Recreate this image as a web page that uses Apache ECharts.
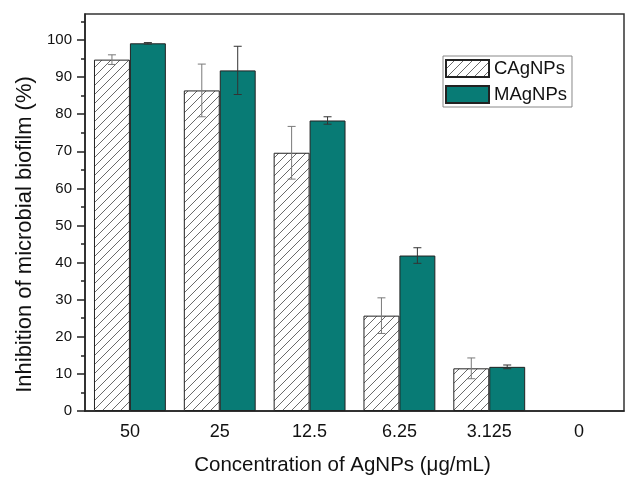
<!DOCTYPE html>
<html>
<head>
<meta charset="utf-8">
<script src="https://cdn.jsdelivr.net/npm/echarts@6/dist/echarts.min.js"></script>
<style>html,body{margin:0;padding:0;background:#fff}#c{width:625px;height:481px}</style>
</head>
<body>
<div id="c"></div>
<script>
const categories = ['50', '25', '12.5', '6.25', '3.125', '0'];
const cagnpsValues = [94.7, 86.4, 69.6, 25.7, 11.5, '-'];
const cagnpsErrors = [1.3, 7.1, 7.1, 4.8, 2.8, 0];
const magnpsValues = [99.1, 91.8, 78.3, 41.9, 11.9, '-'];
const magnpsErrors = [0.2, 6.5, 1.0, 2.1, 0.5, 0];
const yMajorTicks = [0, 10, 20, 30, 40, 50, 60, 70, 80, 90, 100];
const yMinorTicks = [5, 15, 25, 35, 45, 55, 65, 75, 85, 95, 105];

const FONT = '"Liberation Sans", Arial, sans-serif';

function hatch() {
  const s = 9;
  const cv = document.createElement('canvas');
  cv.width = s; cv.height = s;
  const ctx = cv.getContext('2d');
  ctx.fillStyle = '#ffffff';
  ctx.fillRect(0, 0, s, s);
  ctx.strokeStyle = '#6a6a6a';
  ctx.lineWidth = 1;
  ctx.beginPath();
  ctx.moveTo(-1, s + 1); ctx.lineTo(s + 1, -1);
  ctx.moveTo(-1, 1); ctx.lineTo(1, -1);
  ctx.moveTo(s - 1, s + 1); ctx.lineTo(s + 1, s - 1);
  ctx.stroke();
  return cv;
}

function errData(vals, errs) {
  const out = [];
  vals.forEach((v, i) => { if (v !== '-' && errs[i] > 0) out.push([i, v, errs[i]]); });
  return out;
}

function errSeries(vals, errs, offset, color) {
  return {
    type: 'custom',
    z: 5,
    silent: true,
    data: errData(vals, errs),
    renderItem: function (params, api) {
      const i = api.value(0), v = api.value(1), e = api.value(2);
      const band = api.size([1, 0])[0];
      const top = api.coord([i, v + e]);
      const bot = api.coord([i, v - e]);
      const x = top[0] + offset * band;
      const cap = 4;
      const style = { stroke: color, lineWidth: 1 };
      return {
        type: 'group',
        children: [
          { type: 'line', shape: { x1: x, y1: top[1], x2: x, y2: bot[1] }, style: style },
          { type: 'line', shape: { x1: x - cap, y1: top[1], x2: x + cap, y2: top[1] }, style: style },
          { type: 'line', shape: { x1: x - cap, y1: bot[1], x2: x + cap, y2: bot[1] }, style: style }
        ]
      };
    }
  };
}

const chart = echarts.init(document.getElementById('c'), null, { renderer: 'canvas' });
const axisColor = '#222';
chart.setOption({
  animation: false,
  backgroundColor: '#ffffff',
  textStyle: { fontFamily: FONT },
  grid: { left: 85, right: 1, top: 14, bottom: 65, show: true, borderColor: '#333', borderWidth: 1.5, containLabel: false },
  legend: {
    left: 443, top: 56,
    orient: 'vertical',
    itemWidth: 43, itemHeight: 17, itemGap: 7,
    padding: [3, 5, 3, 2],
    borderColor: '#888', borderWidth: 1, backgroundColor: '#fff',
    textStyle: { fontFamily: FONT, fontSize: 18.5, lineHeight: 17, color: '#111' },
    icon: 'rect',
    data: ['CAgNPs', 'MAgNPs']
  },
  xAxis: {
    type: 'category',
    data: categories,
    name: 'Concentration of AgNPs (μg/mL)',
    nameLocation: 'middle',
    nameGap: 44,
    nameTextStyle: { fontFamily: FONT, fontSize: 20.5, color: '#111', padding: [0, 24, 0, 0] },
    axisLine: { lineStyle: { color: axisColor, width: 1.5 } },
    axisTick: { alignWithLabel: true, length: 6, lineStyle: { color: axisColor, width: 1.5 } },
    axisLabel: { fontFamily: FONT, fontSize: 18, color: '#111', margin: 12 },
    splitLine: { show: false }
  },
  yAxis: [{
    type: 'value',
    min: 0, max: 107,
    name: 'Inhibition of microbial biofilm (%)',
    nameLocation: 'middle',
    nameGap: 48,
    nameTextStyle: { fontFamily: FONT, fontSize: 22, color: '#111', padding: [0, 44, 0, 0] },
    axisLine: { show: true, lineStyle: { color: axisColor, width: 1.5 } },
    axisTick: { show: true, length: 8, customValues: yMajorTicks, lineStyle: { color: axisColor, width: 1.5 } },
    axisLabel: { fontFamily: FONT, fontSize: 15, color: '#111', margin: 13, customValues: yMajorTicks },
    splitLine: { show: false }
  }, {
    type: 'value',
    position: 'left',
    min: 0, max: 107,
    axisLine: { show: false },
    axisTick: { show: true, length: 4, customValues: yMinorTicks, lineStyle: { color: axisColor, width: 1.5 } },
    axisLabel: { show: false },
    splitLine: { show: false }
  }],
  series: [{
    name: 'CAgNPs',
    type: 'bar',
    data: cagnpsValues,
    barGap: '0%',
    barCategoryGap: '20%',
    itemStyle: { color: { image: hatch(), repeat: 'repeat' }, borderColor: '#222', borderWidth: 1 }
  }, {
    name: 'MAgNPs',
    type: 'bar',
    data: magnpsValues,
    barGap: '0%',
    barCategoryGap: '20%',
    itemStyle: { color: '#087b75', borderColor: '#222', borderWidth: 1 }
  },
  errSeries(cagnpsValues, cagnpsErrors, -0.2, '#7a7a7a'),
  errSeries(magnpsValues, magnpsErrors, 0.2, '#333333')
  ]
});
</script>
</body>
</html>
